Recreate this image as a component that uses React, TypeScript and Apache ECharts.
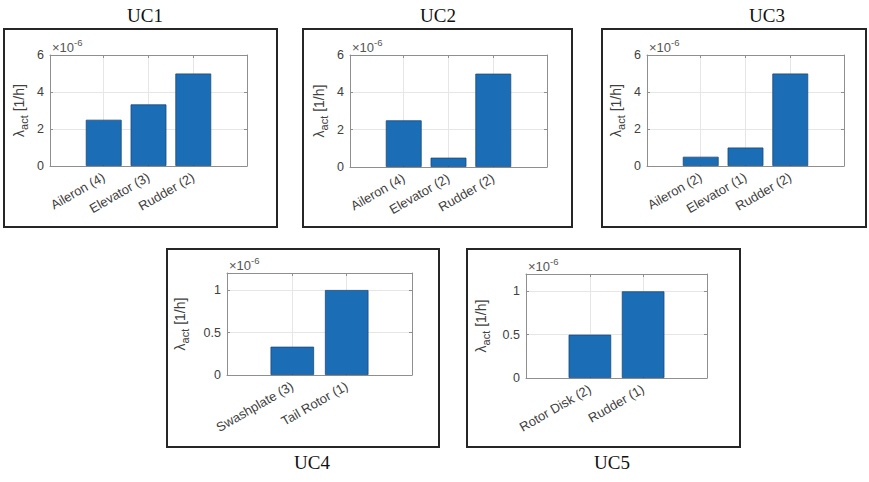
import React, { useEffect, useRef } from 'react';
import * as echarts from 'echarts';

// ---- data ----
const panelTitles = ['UC1', 'UC2', 'UC3', 'UC4', 'UC5'];
const uc1Categories = ['Aileron (4)', 'Elevator (3)', 'Rudder (2)'];
const uc1Values = [2.5, 3.33, 5]; // ×10^-6 1/h
const uc2Categories = ['Aileron (4)', 'Elevator (2)', 'Rudder (2)'];
const uc2Values = [2.5, 0.5, 5];
const uc3Categories = ['Aileron (2)', 'Elevator (1)', 'Rudder (2)'];
const uc3Values = [0.5, 1, 5];
const uc4Categories = ['Swashplate (3)', 'Tail Rotor (1)'];
const uc4Values = [0.333, 1];
const uc5Categories = ['Rotor Disk (2)', 'Rudder (1)'];
const uc5Values = [0.5, 1];
const yTicksLarge = [0, 2, 4, 6];
const yTicksSmall = [0, 0.5, 1];
const yMaxLarge = 6;
const yMaxSmall = 1.2;
const yLabelText = '{m|λ}{sub|act}{m| [1/h]}';
const exponentText = '{m|×10}{sup|-6}';

// ---- styles ----
const SANS = '"Liberation Sans", Arial, Helvetica, sans-serif';
const SERIF = '"Liberation Serif", "Times New Roman", serif';
const axisColor = '#8f8f8f';
const gridColor = '#e6e6e6';
const labelColor = '#404040';
const barColor = '#1b6db5';
const barEdge = '#1a4a78';

const panels = [
  { cats: uc1Categories, values: uc1Values, ticks: yTicksLarge, yMax: yMaxLarge,
    grid: { left: 50, top: 55, width: 197, height: 111 }, frame: [4, 29, 273, 198], title: [145, 15], nameGap: 21 },
  { cats: uc2Categories, values: uc2Values, ticks: yTicksLarge, yMax: yMaxLarge,
    grid: { left: 350, top: 55, width: 197, height: 112 }, frame: [303, 29, 269, 198], title: [438, 15], nameGap: 21 },
  { cats: uc3Categories, values: uc3Values, ticks: yTicksLarge, yMax: yMaxLarge,
    grid: { left: 647, top: 55, width: 197, height: 111 }, frame: [602, 29, 264, 198], title: [767, 15], nameGap: 21 },
  { cats: uc4Categories, values: uc4Values, ticks: yTicksSmall, yMax: yMaxSmall,
    grid: { left: 227, top: 273, width: 185, height: 102 }, frame: [167, 249, 272, 198], title: [312, 462], nameGap: 37 },
  { cats: uc5Categories, values: uc5Values, ticks: yTicksSmall, yMax: yMaxSmall,
    grid: { left: 526, top: 274, width: 181, height: 104 }, frame: [467, 249, 273, 198], title: [612, 462], nameGap: 35 },
];

export default function App() {
  const ref = useRef<HTMLDivElement>(null);
  useEffect(() => {
    if (!ref.current) return;
    const chart = echarts.init(ref.current, undefined, { renderer: 'svg' });
    const grids: any[] = [];
    const xAxes: any[] = [];
    const yAxes: any[] = [];
    const series: any[] = [];
    const graphics: any[] = [];

    panels.forEach((p, i) => {
      const n = p.cats.length;
      const xMin = -0.2;
      const xMax = n + 1.2;
      const pos = p.cats.map((_, k) => k + 1);
      const spacing = p.grid.width / (xMax - xMin);
      const lineStyle = { color: axisColor, width: 1 };
      grids.push({ ...p.grid, show: true, backgroundColor: '#ffffff', borderWidth: 0, containLabel: false });
      xAxes.push({
        type: 'value', gridIndex: i, min: xMin, max: xMax, position: 'bottom',
        axisLine: { show: true, onZero: false, lineStyle },
        axisTick: { show: true, inside: true, length: 3, customValues: pos, lineStyle },
        axisLabel: {
          customValues: pos, rotate: 30, margin: 10, fontSize: 13, color: labelColor, fontFamily: SANS,
          formatter: (v: number) => p.cats[Math.round(v) - 1] ?? '',
        },
        splitLine: { show: true, lineStyle: { color: gridColor, width: 1 } },
      });
      xAxes.push({
        type: 'value', gridIndex: i, min: xMin, max: xMax, position: 'top',
        axisLine: { show: true, onZero: false, lineStyle },
        axisTick: { show: true, inside: true, length: 3, customValues: pos, lineStyle },
        axisLabel: { show: false },
        splitLine: { show: false },
      });
      yAxes.push({
        type: 'value', gridIndex: i, min: 0, max: p.yMax, position: 'left',
        axisLine: { show: true, onZero: false, lineStyle },
        axisTick: { show: true, inside: true, length: 3, customValues: p.ticks, lineStyle },
        axisLabel: { customValues: p.ticks, fontSize: 12.5, color: labelColor, fontFamily: SANS, margin: 6,
          formatter: (v: number) => String(v) },
        splitLine: { show: true, lineStyle: { color: gridColor, width: 1 } },
        name: yLabelText, nameLocation: 'middle', nameGap: p.nameGap,
        nameTextStyle: {
          rich: {
            m: { fontSize: 14, fontFamily: SANS, color: labelColor, verticalAlign: 'top' },
            sub: { fontSize: 11, fontFamily: SANS, color: labelColor, verticalAlign: 'top', padding: [6, 0, 0, 0] },
          },
        },
      });
      yAxes.push({
        type: 'value', gridIndex: i, min: 0, max: p.yMax, position: 'right',
        axisLine: { show: true, onZero: false, lineStyle },
        axisTick: { show: true, inside: true, length: 3, customValues: p.ticks, lineStyle },
        axisLabel: { show: false },
        splitLine: { show: false },
      });
      series.push({
        type: 'bar', xAxisIndex: 2 * i, yAxisIndex: 2 * i,
        data: p.values.map((v, k) => [k + 1, v]),
        barWidth: 0.8 * spacing,
        itemStyle: { color: barColor, borderColor: barEdge, borderWidth: 0.8 },
        silent: true,
      });
      graphics.push({
        type: 'rect', shape: { x: p.frame[0], y: p.frame[1], width: p.frame[2], height: p.frame[3] },
        style: { fill: 'none', stroke: '#262626', lineWidth: 2 }, silent: true, z: 10,
      });
      graphics.push({
        type: 'text', x: p.title[0], y: p.title[1],
        style: { text: panelTitles[i], font: `19px ${SERIF}`, fill: '#111111', align: 'center', verticalAlign: 'middle' },
        silent: true,
      });
      graphics.push({
        type: 'text', x: p.grid.left + 2, y: p.grid.top - 1,
        style: {
          text: exponentText, align: 'left', verticalAlign: 'bottom',
          rich: {
            m: { fontSize: 13, fontFamily: SANS, fill: '#555555', verticalAlign: 'top', padding: [4, 0, 0, 0] },
            sup: { fontSize: 9.5, fontFamily: SANS, fill: '#555555', verticalAlign: 'top' },
          },
        },
        silent: true,
      });
    });

    chart.setOption({
      animation: false,
      backgroundColor: '#ffffff',
      grid: grids,
      xAxis: xAxes,
      yAxis: yAxes,
      series,
      graphic: graphics,
    });
    return () => chart.dispose();
  }, []);
  return <div ref={ref} style={{ position: 'fixed', left: 0, top: 0, width: 869, height: 482, background: '#fff' }} />;
}
